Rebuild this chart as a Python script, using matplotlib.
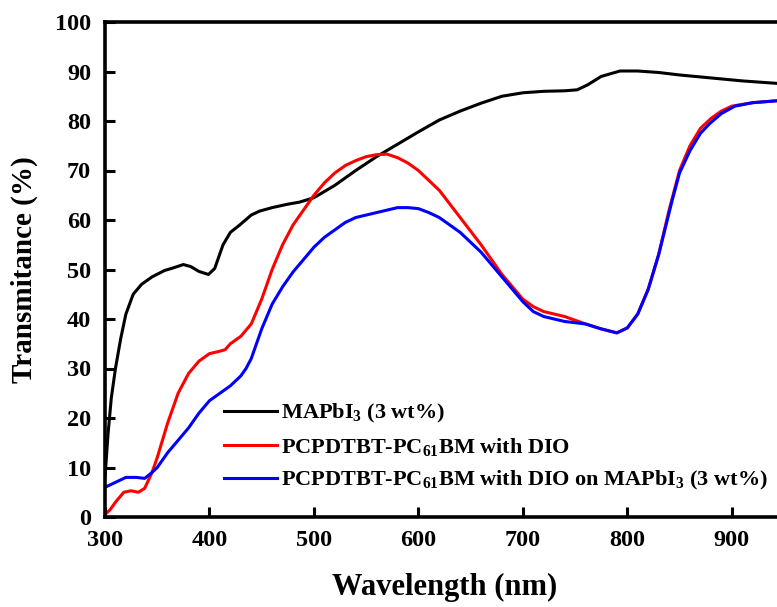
import numpy as np
import matplotlib
matplotlib.use("Agg")
import matplotlib.pyplot as plt

plt.rcParams['font.family'] = ['Liberation Serif', 'DejaVu Serif']
plt.rcParams['font.weight'] = 'bold'
plt.rcParams['mathtext.fontset'] = 'custom'
plt.rcParams['mathtext.rm'] = 'Liberation Serif:bold'
plt.rcParams['mathtext.bf'] = 'Liberation Serif:bold'
plt.rcParams['mathtext.it'] = 'Liberation Serif:bold'

# MAPbI3 (3 wt%)
wl_black = [300, 303, 306, 310, 315, 320, 327, 335, 345, 357, 365, 375, 382, 390, 399, 405,
            413, 420, 429, 440, 448, 460, 475, 486, 500, 520, 540, 560, 580, 600, 620, 640,
            660, 680, 700, 720, 740, 752, 762, 775, 793, 810, 830, 850, 870, 890, 910, 930, 950]
t_black = [8, 17, 24, 30, 36, 41, 45, 47, 48.5, 49.8, 50.3, 51.0, 50.6, 49.6, 49.0, 50.2,
           55, 57.5, 59, 61, 61.8, 62.5, 63.2, 63.6, 64.5, 67, 70, 72.8, 75.3, 77.8, 80.2, 82,
           83.6, 85, 85.7, 86, 86.1, 86.3, 87.3, 89, 90.1, 90.1, 89.8, 89.3, 88.9, 88.5, 88.1, 87.8, 87.5]

# PCPDTBT-PC61BM with DIO
wl_red = [300, 305, 310, 318, 325, 332, 338, 345, 350, 360, 370, 380, 390, 400, 410, 415,
          420, 430, 440, 450, 460, 470, 480, 490, 500, 510, 520, 530, 540, 550, 560, 570,
          580, 590, 600, 620, 640, 660, 680, 700, 710, 720, 740, 760, 775, 790, 800, 810,
          820, 830, 840, 850, 860, 870, 880, 890, 900, 920, 950]
t_red = [0.5, 1.5, 3, 5, 5.3, 5, 5.8, 9, 12, 19, 25, 29, 31.5, 33, 33.5, 33.8,
         35, 36.5, 39, 44, 50, 55, 59, 62, 65, 67.5, 69.5, 71, 72, 72.8, 73.2, 73.3,
         72.6, 71.5, 70, 66, 60.5, 55, 49, 44, 42.5, 41.5, 40.5, 39, 38, 37.2, 38.2, 41,
         46, 53, 62, 70, 75, 78.5, 80.5, 82, 83, 83.7, 84.2]

# PCPDTBT-PC61BM with DIO on MAPbI3 (3 wt%)
wl_blue = [300, 310, 320, 330, 338, 345, 350, 360, 370, 380, 390, 400, 410, 420, 430, 435,
           440, 450, 460, 470, 480, 490, 500, 510, 520, 530, 540, 550, 560, 570, 580, 590,
           600, 610, 620, 640, 660, 680, 700, 710, 720, 740, 760, 775, 790, 800, 810, 820,
           830, 843, 850, 860, 870, 879, 890, 903, 920, 950]
t_blue = [6, 7, 8, 8, 7.8, 9, 10, 13, 15.5, 18, 21, 23.5, 25, 26.5, 28.5, 30,
          32, 38, 43, 46.5, 49.5, 52, 54.5, 56.5, 58, 59.5, 60.5, 61, 61.5, 62, 62.5, 62.5,
          62.3, 61.5, 60.5, 57.5, 53.5, 48.5, 43.5, 41.5, 40.5, 39.5, 39, 38, 37.2, 38.2, 41, 46,
          53, 64, 69.5, 74, 77.5, 79.5, 81.5, 83, 83.7, 84.2]

labels = [r'MAPbI$_{\mathrm{3}}$ (3 wt%)',
          r'PCPDTBT-PC$_{\mathrm{61}}$BM with DIO',
          r'PCPDTBT-PC$_{\mathrm{61}}$BM with DIO on MAPbI$_{\mathrm{3}}$ (3 wt%)']

fig = plt.figure(figsize=(7.77, 6.07), dpi=100)
ax = fig.add_axes([105/777, 90/607, 679/777, 495/607])

ax.plot(wl_black, t_black, color='black', lw=2.2, label=labels[0])
ax.plot(wl_red, t_red, color='#ff0000', lw=2.2, label=labels[1])
ax.plot(wl_blue, t_blue, color='#0000ff', lw=2.2, label=labels[2])

ax.set_xlim(300, 950)
ax.set_ylim(0, 100)
ax.set_xticks(np.arange(300, 901, 100))
ax.set_yticks(np.arange(0, 101, 10))
ax.tick_params(direction='in', length=7, width=2.2, labelsize=17.5)
ax.tick_params(axis='x', pad=9)
ax.tick_params(axis='y', pad=10)
for lab in ax.get_xticklabels() + ax.get_yticklabels():
    lab.set_fontweight('bold')
for s in ax.spines.values():
    s.set_linewidth(2.6)

ax.set_xlabel('Wavelength (nm)', fontsize=22, fontweight='bold', labelpad=16)
ax.set_ylabel('Transmitance (%)', fontsize=21, fontweight='bold', labelpad=12)

leg = ax.legend(loc='upper left', bbox_to_anchor=(224/777, 1 - 402/607),
                bbox_transform=fig.transFigure,
                frameon=False, fontsize=16, handlelength=2.4, handletextpad=0.15,
                labelspacing=0.5, borderaxespad=0, borderpad=0)
for t in leg.get_texts():
    t.set_fontweight('bold')

fig.savefig('out.png', dpi=100)
